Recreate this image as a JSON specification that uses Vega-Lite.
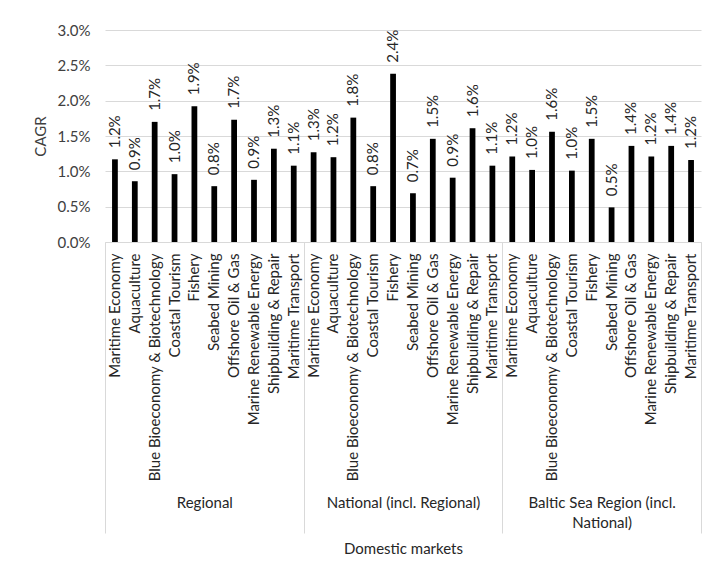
{
  "$schema": "https://vega.github.io/schema/vega-lite/v6.json",
  "width": 596,
  "height": 212,
  "autosize": "none",
  "padding": {"left": 105, "top": 30, "right": 12, "bottom": 333},
  "background": "white",
  "config": {
    "font": "Lato",
    "view": {"stroke": null},
    "axis": {
      "labelFont": "Lato",
      "titleFont": "Lato",
      "labelColor": "#404040",
      "titleColor": "#404040",
      "labelFontSize": 15,
      "titleFontSize": 15,
      "titleFontWeight": "normal"
    }
  },
  "data": {
    "values": [
      {"market": "Regional", "sector": "Maritime Economy", "cagr": 0.0117},
      {"market": "Regional", "sector": "Aquaculture", "cagr": 0.0086},
      {"market": "Regional", "sector": "Blue Bioeconomy & Biotechnology", "cagr": 0.0170},
      {"market": "Regional", "sector": "Coastal Tourism", "cagr": 0.0096},
      {"market": "Regional", "sector": "Fishery", "cagr": 0.0192},
      {"market": "Regional", "sector": "Seabed Mining", "cagr": 0.0079},
      {"market": "Regional", "sector": "Offshore Oil & Gas", "cagr": 0.0173},
      {"market": "Regional", "sector": "Marine Renewable Energy", "cagr": 0.0088},
      {"market": "Regional", "sector": "Shipbuilding & Repair", "cagr": 0.0132},
      {"market": "Regional", "sector": "Maritime Transport", "cagr": 0.0108},
      {"market": "National (incl. Regional)", "sector": "Maritime Economy", "cagr": 0.0127},
      {"market": "National (incl. Regional)", "sector": "Aquaculture", "cagr": 0.0120},
      {"market": "National (incl. Regional)", "sector": "Blue Bioeconomy & Biotechnology", "cagr": 0.0176},
      {"market": "National (incl. Regional)", "sector": "Coastal Tourism", "cagr": 0.0079},
      {"market": "National (incl. Regional)", "sector": "Fishery", "cagr": 0.0238},
      {"market": "National (incl. Regional)", "sector": "Seabed Mining", "cagr": 0.0069},
      {"market": "National (incl. Regional)", "sector": "Offshore Oil & Gas", "cagr": 0.0146},
      {"market": "National (incl. Regional)", "sector": "Marine Renewable Energy", "cagr": 0.0091},
      {"market": "National (incl. Regional)", "sector": "Shipbuilding & Repair", "cagr": 0.0161},
      {"market": "National (incl. Regional)", "sector": "Maritime Transport", "cagr": 0.0108},
      {"market": "Baltic Sea Region (incl. National)", "sector": "Maritime Economy", "cagr": 0.0121},
      {"market": "Baltic Sea Region (incl. National)", "sector": "Aquaculture", "cagr": 0.0102},
      {"market": "Baltic Sea Region (incl. National)", "sector": "Blue Bioeconomy & Biotechnology", "cagr": 0.0156},
      {"market": "Baltic Sea Region (incl. National)", "sector": "Coastal Tourism", "cagr": 0.0101},
      {"market": "Baltic Sea Region (incl. National)", "sector": "Fishery", "cagr": 0.0146},
      {"market": "Baltic Sea Region (incl. National)", "sector": "Seabed Mining", "cagr": 0.0049},
      {"market": "Baltic Sea Region (incl. National)", "sector": "Offshore Oil & Gas", "cagr": 0.0136},
      {"market": "Baltic Sea Region (incl. National)", "sector": "Marine Renewable Energy", "cagr": 0.0121},
      {"market": "Baltic Sea Region (incl. National)", "sector": "Shipbuilding & Repair", "cagr": 0.0136},
      {"market": "Baltic Sea Region (incl. National)", "sector": "Maritime Transport", "cagr": 0.0116}
    ]
  },
  "transform": [
    {"calculate": "datum.market + '|' + datum.sector", "as": "key"}
  ],
  "encoding": {
    "y": {
      "field": "cagr",
      "type": "quantitative",
      "scale": {"domain": [0, 0.03], "nice": false},
      "axis": {
        "title": "CAGR",
        "format": ".1%",
        "values": [0, 0.005, 0.01, 0.015, 0.02, 0.025, 0.03],
        "domain": false,
        "ticks": false,
        "labelPadding": 15,
        "titlePadding": 9,
        "gridColor": "#d9d9d9",
        "gridWidth": 1
      }
    }
  },
  "layer": [
    {
      "encoding": {
        "x": {
          "field": "key",
          "type": "nominal",
          "sort": null,
          "scale": {"paddingInner": 0, "paddingOuter": 0},
          "axis": {
            "title": null,
            "orient": "bottom",
            "labelExpr": "split(datum.value, '|')[1]",
            "labelAngle": -90,
            "labelPadding": 11,
            "labelLimit": 0,
            "labelOverlap": false,
            "labelColor": "#262626",
            "ticks": false,
            "grid": false,
            "domainColor": "#d9d9d9",
            "domainWidth": 1
          }
        }
      },
      "layer": [
        {
          "mark": {"type": "bar", "color": "black", "width": {"band": 0.29}}
        },
        {
          "mark": {
            "type": "text",
            "angle": 270,
            "align": "left",
            "baseline": "middle",
            "dx": 11,
            "fontSize": 15,
            "color": "#262626"
          },
          "encoding": {
            "text": {"field": "cagr", "type": "quantitative", "format": ".1%"}
          }
        }
      ]
    },
    {
      "mark": {"type": "point", "opacity": 0},
      "encoding": {
        "x": {
          "field": "market",
          "type": "nominal",
          "sort": null,
          "scale": {"type": "band", "paddingInner": 0, "paddingOuter": 0},
          "axis": {
            "title": "Domestic markets",
            "orient": "bottom",
            "tickBand": "extent",
            "ticks": true,
            "tickSize": 291,
            "tickColor": "#d9d9d9",
            "tickWidth": 1,
            "domain": false,
            "grid": false,
            "labelAngle": 0,
            "labelPadding": -38,
            "labelLimit": 0,
            "labelLineHeight": 20,
            "labelBaseline": "top",
            "labelColor": "#262626",
            "labelExpr": "datum.value == 'Baltic Sea Region (incl. National)' ? ['Baltic Sea Region (incl.', 'National)'] : datum.value",
            "titlePadding": 99,
            "titleColor": "#262626"
          }
        },
        "y": {"datum": 0}
      }
    }
  ],
  "resolve": {"scale": {"x": "independent"}, "axis": {"x": "independent"}}
}
